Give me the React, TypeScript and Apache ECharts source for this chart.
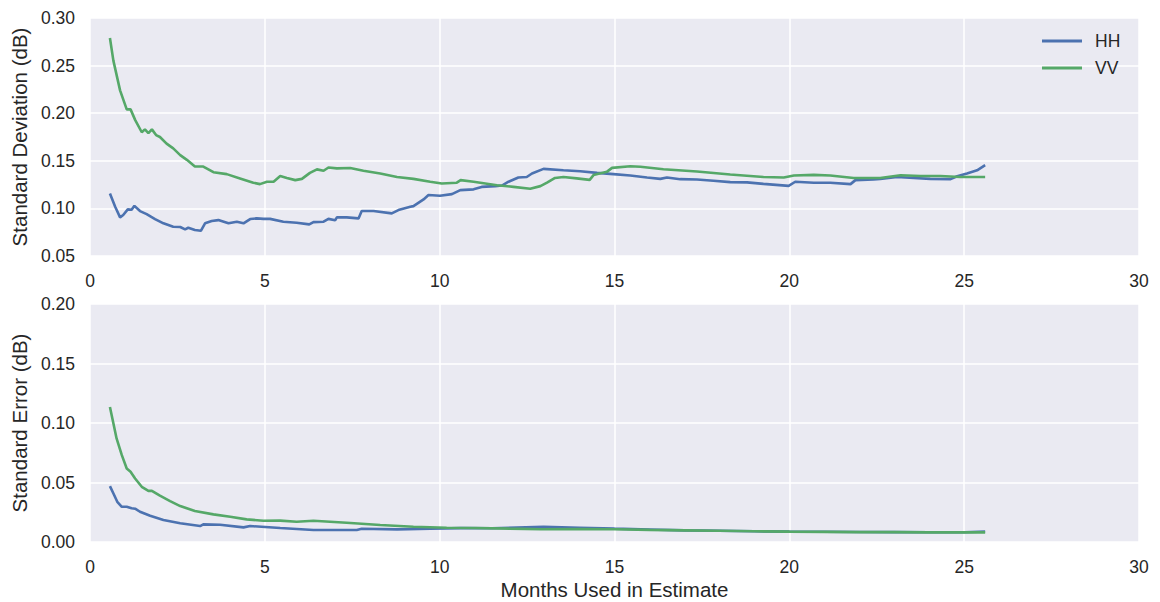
import React, { useEffect, useRef } from "react";
import * as echarts from "echarts";

// Standard deviation of the estimate vs. months used, [months, dB]
const hhStdDev: [number, number][] = [
  [0.57, 0.1157], [0.72, 0.1017], [0.86, 0.0906], [0.95, 0.093], [1.08, 0.099], [1.19, 0.0985],
  [1.27, 0.1027], [1.43, 0.0972], [1.62, 0.094], [1.86, 0.0888], [2.1, 0.0843], [2.38, 0.0807],
  [2.58, 0.0805], [2.72, 0.078], [2.81, 0.0797], [3.0, 0.0773], [3.17, 0.0765], [3.29, 0.0843],
  [3.48, 0.0867], [3.67, 0.0877], [3.96, 0.0843], [4.2, 0.086], [4.39, 0.0843], [4.58, 0.0888],
  [4.77, 0.0895], [4.96, 0.089], [5.15, 0.089], [5.53, 0.086], [5.91, 0.085], [6.27, 0.0832],
  [6.39, 0.0856], [6.68, 0.086], [6.82, 0.089], [7.01, 0.0875], [7.06, 0.0906], [7.34, 0.0906],
  [7.68, 0.0895], [7.77, 0.0972], [8.11, 0.0972], [8.63, 0.0948], [8.82, 0.0982], [9.16, 0.1017],
  [9.25, 0.1024], [9.54, 0.1094], [9.68, 0.114], [10.01, 0.1133], [10.35, 0.115], [10.59, 0.1192],
  [10.97, 0.12], [11.2, 0.1226], [11.59, 0.1234], [11.78, 0.124], [11.97, 0.128], [12.25, 0.1325],
  [12.49, 0.133], [12.64, 0.1367], [12.97, 0.1415], [13.54, 0.14], [14.02, 0.139], [14.5, 0.1373],
  [14.97, 0.136], [15.45, 0.1345], [15.93, 0.1325], [16.31, 0.131], [16.5, 0.1325], [16.88, 0.1307],
  [17.36, 0.1303], [17.83, 0.129], [18.31, 0.1276], [18.79, 0.1273], [19.26, 0.1258], [19.98, 0.1237],
  [20.17, 0.128], [20.7, 0.127], [21.17, 0.127], [21.75, 0.1255], [21.89, 0.1297], [22.41, 0.1303],
  [22.6, 0.131], [23.08, 0.133], [23.56, 0.132], [24.03, 0.131], [24.61, 0.1307], [24.8, 0.1338],
  [25.08, 0.1367], [25.37, 0.14], [25.6, 0.1454],
];

const vvStdDev: [number, number][] = [
  [0.57, 0.279], [0.67, 0.255], [0.86, 0.224], [1.05, 0.204], [1.16, 0.204], [1.29, 0.193],
  [1.48, 0.18], [1.57, 0.183], [1.67, 0.179], [1.77, 0.183], [1.89, 0.177], [2.0, 0.175],
  [2.19, 0.168], [2.38, 0.163], [2.58, 0.156], [2.77, 0.151], [3.0, 0.144], [3.24, 0.144],
  [3.53, 0.138], [3.91, 0.136], [4.29, 0.1315], [4.67, 0.127], [4.86, 0.1255], [5.06, 0.128],
  [5.25, 0.128], [5.44, 0.134], [5.63, 0.132], [5.87, 0.1297], [6.06, 0.131], [6.29, 0.1373],
  [6.49, 0.141], [6.68, 0.1395], [6.82, 0.143], [7.06, 0.142], [7.44, 0.1425], [7.82, 0.1395],
  [8.3, 0.1367], [8.78, 0.133], [9.25, 0.131], [9.73, 0.128], [10.06, 0.1262], [10.49, 0.127],
  [10.6, 0.1297], [10.97, 0.128], [11.64, 0.1244], [12.11, 0.1226], [12.59, 0.1206], [12.88, 0.1234],
  [13.07, 0.127], [13.3, 0.132], [13.54, 0.133], [13.92, 0.1315], [14.29, 0.13], [14.4, 0.135],
  [14.78, 0.1384], [14.93, 0.1426], [15.45, 0.1443], [15.74, 0.1437], [16.4, 0.1412], [17.36, 0.1388],
  [18.31, 0.1356], [19.26, 0.133], [19.84, 0.1325], [20.13, 0.1345], [20.7, 0.1352], [21.17, 0.1345],
  [21.84, 0.132], [22.6, 0.132], [23.18, 0.1349], [23.75, 0.134], [24.32, 0.134], [24.89, 0.133],
  [25.6, 0.133],
];

// Standard error of the estimate vs. months used, [months, dB]
const hhStdErr: [number, number][] = [
  [0.57, 0.047], [0.67, 0.0408], [0.78, 0.0338], [0.91, 0.0296], [1.05, 0.0296], [1.19, 0.0283],
  [1.29, 0.028], [1.43, 0.0254], [1.72, 0.022], [2.1, 0.0185], [2.58, 0.0157], [3.15, 0.0134],
  [3.24, 0.0148], [3.72, 0.0145], [4.39, 0.0123], [4.58, 0.0134], [5.44, 0.0117], [6.39, 0.0101],
  [7.63, 0.0101], [7.77, 0.0111], [8.78, 0.0106], [9.73, 0.0111], [10.6, 0.0117], [11.5, 0.0115],
  [12.97, 0.0128], [14.0, 0.012], [15.0, 0.0112], [16.0, 0.0105], [17.0, 0.0098], [18.0, 0.0094],
  [19.0, 0.009], [20.0, 0.0087], [21.0, 0.0086], [22.0, 0.0084], [23.0, 0.0083], [24.0, 0.0082],
  [25.0, 0.0082], [25.6, 0.0088],
];

const vvStdErr: [number, number][] = [
  [0.57, 0.1135], [0.67, 0.0996], [0.76, 0.087], [0.91, 0.073], [1.05, 0.0618], [1.16, 0.059],
  [1.29, 0.0534], [1.48, 0.0464], [1.67, 0.043], [1.77, 0.043], [2.0, 0.0389], [2.29, 0.0344],
  [2.58, 0.0302], [3.0, 0.026], [3.53, 0.0232], [4.01, 0.0212], [4.48, 0.019], [4.96, 0.0179],
  [5.44, 0.018], [5.91, 0.017], [6.39, 0.0179], [7.34, 0.0162], [8.3, 0.0143], [9.25, 0.0128],
  [10.2, 0.012], [11.0, 0.0118], [12.0, 0.0112], [12.9, 0.0107], [14.0, 0.0108], [15.0, 0.0107],
  [16.0, 0.0102], [17.0, 0.0098], [18.0, 0.0094], [19.0, 0.009], [20.0, 0.0087], [21.0, 0.0085],
  [22.0, 0.0083], [23.0, 0.0083], [24.0, 0.0081], [25.0, 0.0081], [25.6, 0.0081],
];

const seriesNames = ["HH", "VV"];
const xTitle = "Months Used in Estimate";
const topTitle = "Standard Deviation (dB)";
const bottomTitle = "Standard Error (dB)";

const FONT = "'Liberation Sans', Arial, sans-serif";
const TEXT = "#262626";
const BLUE = "#4C72B0";
const GREEN = "#55A868";
const PANEL = "#EAEAF2";
const TICK_SIZE = 17.5;
const TITLE_SIZE = 20.5;

function xAxis(gridIndex: number, name: string) {
  return {
    type: "value" as const,
    gridIndex,
    min: 0,
    max: 30,
    interval: 5,
    name,
    nameLocation: "middle" as const,
    nameGap: 37,
    nameTextStyle: { fontFamily: FONT, fontSize: TITLE_SIZE, color: TEXT },
    axisLine: { show: false },
    axisTick: { show: false },
    axisLabel: { fontFamily: FONT, fontSize: TICK_SIZE, color: TEXT, margin: 16 },
    splitLine: { show: true, lineStyle: { color: "#ffffff", width: 1.5 } },
  };
}

function yAxis(gridIndex: number, name: string, min: number, max: number) {
  return {
    type: "value" as const,
    gridIndex,
    min,
    max,
    interval: 0.05,
    name,
    nameLocation: "middle" as const,
    nameRotate: 90,
    nameGap: 58,
    nameTextStyle: { fontFamily: FONT, fontSize: TITLE_SIZE, color: TEXT },
    axisLine: { show: false },
    axisTick: { show: false },
    axisLabel: {
      fontFamily: FONT,
      fontSize: TICK_SIZE,
      color: TEXT,
      margin: 15,
      formatter: (v: number) => v.toFixed(2),
    },
    splitLine: { show: true, lineStyle: { color: "#ffffff", width: 1.5 } },
  };
}

function line(name: string, data: [number, number][], color: string, axis: number) {
  return {
    type: "line" as const,
    name,
    data,
    xAxisIndex: axis,
    yAxisIndex: axis,
    showSymbol: false,
    symbol: "none",
    lineStyle: { color, width: 2.6 },
    itemStyle: { color },
    z: 3,
  };
}

export default function App() {
  const ref = useRef<HTMLDivElement>(null);

  useEffect(() => {
    if (!ref.current) return;
    const chart = echarts.init(ref.current, undefined, { renderer: "svg" });
    chart.setOption({
      animation: false,
      backgroundColor: "#ffffff",
      textStyle: { fontFamily: FONT },
      grid: [
        { left: 90, right: 21, top: 18, height: 238, show: true, backgroundColor: PANEL, borderWidth: 0 },
        { left: 90, right: 21, top: 304, height: 238, show: true, backgroundColor: PANEL, borderWidth: 0 },
      ],
      xAxis: [xAxis(0, ""), xAxis(1, xTitle)],
      yAxis: [yAxis(0, topTitle, 0.05, 0.3), yAxis(1, bottomTitle, 0, 0.2)],
      legend: {
        data: seriesNames,
        orient: "vertical",
        left: 1042,
        top: 32,
        padding: 0,
        icon: "rect",
        itemWidth: 40,
        itemHeight: 3,
        itemGap: 9,
        textStyle: { fontFamily: FONT, fontSize: TICK_SIZE, color: TEXT, padding: [0, 0, 0, 8] },
      },
      series: [
        line(seriesNames[0], hhStdDev, BLUE, 0),
        line(seriesNames[1], vvStdDev, GREEN, 0),
        line(seriesNames[0], hhStdErr, BLUE, 1),
        line(seriesNames[1], vvStdErr, GREEN, 1),
      ],
    });
    return () => chart.dispose();
  }, []);

  return (
    <div
      ref={ref}
      style={{ position: "absolute", left: 0, top: 0, width: 1160, height: 602 }}
    />
  );
}
